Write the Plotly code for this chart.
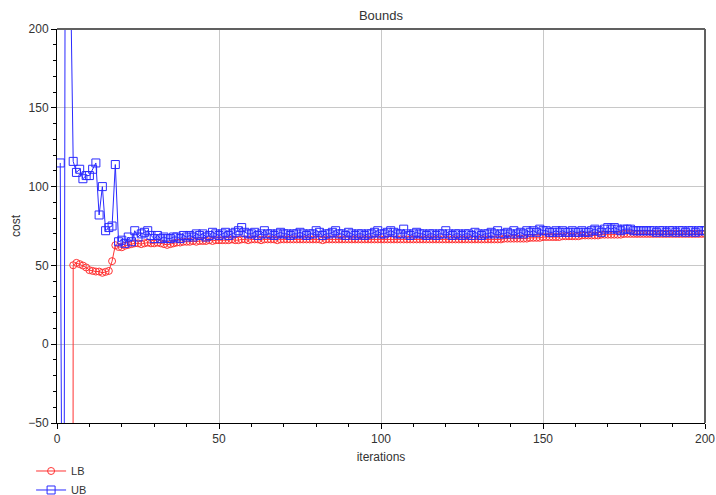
import plotly.graph_objects as go

iterations = list(range(1, 201))

UB = [115, -336, 807, 260, 116, 109, 111, 105, 107, 107,
      111, 115, 82, 100, 72, 74, 75, 114, 65, 66,
      64, 68, 65, 72, 68, 70, 71, 72, 69, 67,
      69, 67, 68, 67, 67, 68, 68, 67, 69, 68,
      69, 68, 70, 69, 70, 68, 69, 71, 70, 69,
      70, 71, 69, 70, 71, 72, 74, 71, 70, 70,
      71, 69, 70, 72, 70, 70, 69, 70, 71, 70,
      70, 69, 70, 70, 71, 70, 69, 70, 70, 72,
      71, 69, 70, 70, 71, 72, 70, 70, 69, 71,
      70, 69, 70, 70, 69, 70, 70, 71, 72, 70,
      70, 71, 72, 71, 70, 70, 73, 70, 69, 70,
      71, 70, 70, 69, 70, 70, 69, 70, 70, 72,
      70, 69, 70, 70, 69, 70, 70, 69, 71, 70,
      69, 70, 70, 71, 70, 72, 70, 70, 71, 70,
      72, 70, 71, 70, 72, 71, 72, 71, 73, 72,
      72, 71, 71, 72, 71, 72, 71, 71, 72, 71,
      71, 72, 71, 71, 72, 73, 72, 71, 73, 74,
      73, 74, 73, 72, 73, 73, 73, 72, 72, 72,
      72, 72, 72, 72, 71, 72, 72, 71, 72, 72,
      71, 72, 72, 71, 72, 72, 71, 72, 72, 72]

LB = [None, None, None, -3000, 50.1, 51.6, 50.8, 49.9, 48.7, 47.0,
      46.5, 46.1, 46.1, 45.3, 45.9, 46.5, 52.7, 62.8, 61.7, 61.5,
      62.5, 63.0, 63.5, 64.0, 64.0, 63.5, 64.0, 64.5, 64.0, 64.0,
      64.5, 64.0, 63.5, 63.0, 63.5, 64.0, 64.5, 64.5, 65.0, 65.0,
      65.0, 65.5, 65.0, 65.5, 65.5, 65.5, 66.0, 65.5, 66.0, 66.0,
      66.0, 66.0, 66.0, 66.5, 66.0, 66.0, 66.5, 66.5, 66.0, 66.5,
      66.5, 66.5, 66.0, 66.5, 66.5, 66.5, 66.5, 66.0, 66.5, 66.5,
      66.5, 66.5, 66.5, 66.5, 66.5, 66.5, 66.5, 66.5, 66.5, 66.5,
      66.5, 66.0, 66.5, 66.5, 66.5, 66.5, 66.5, 66.5, 66.5, 66.5,
      66.5, 66.5, 66.5, 66.5, 66.5, 66.5, 66.5, 66.5, 66.5, 66.5,
      66.5, 66.5, 66.5, 66.5, 66.5, 66.5, 66.5, 66.5, 66.5, 66.5,
      66.5, 66.5, 66.5, 66.5, 66.5, 66.5, 66.5, 66.5, 66.5, 66.5,
      66.5, 66.5, 66.5, 66.5, 66.5, 66.5, 66.5, 66.5, 66.5, 66.5,
      66.5, 66.5, 66.5, 66.5, 66.5, 66.5, 66.5, 67.0, 67.0, 67.0,
      67.0, 67.0, 67.0, 67.0, 67.0, 67.5, 67.5, 67.5, 67.5, 68.0,
      68.0, 68.0, 68.0, 68.0, 68.0, 68.5, 68.5, 68.5, 68.5, 68.5,
      68.5, 69.0, 69.0, 69.0, 69.0, 69.0, 69.0, 69.5, 69.5, 69.5,
      69.5, 69.5, 69.5, 69.5, 70.0, 70.0, 70.0, 70.0, 70.0, 70.0,
      70.0, 70.0, 70.0, 70.0, 70.0, 70.0, 70.0, 70.0, 70.0, 70.0,
      70.0, 70.0, 70.0, 70.0, 70.0, 70.0, 70.0, 70.0, 70.0, 70.0]

RED = "#ff3333"
BLUE = "#2a2aff"
FONT = "Liberation Sans, Arial, sans-serif"
NARROW = "Liberation Sans Narrow, Arial Narrow, Liberation Sans, Arial, sans-serif"

fig = go.Figure()
fig.add_trace(go.Scatter(
    x=iterations, y=LB, name="LB", mode="lines+markers",
    line=dict(color=RED, width=1),
    marker=dict(symbol="circle-open", size=7, color=RED, line=dict(width=1, color=RED)),
    connectgaps=False, cliponaxis=True,
))
fig.add_trace(go.Scatter(
    x=iterations, y=UB, name="UB", mode="lines+markers",
    line=dict(color=BLUE, width=1),
    marker=dict(symbol="square-open", size=8, color=BLUE, line=dict(width=1, color=BLUE)),
    cliponaxis=True,
))

fig.update_layout(
    width=716, height=495,
    margin=dict(l=57, r=11, t=29, b=72, autoexpand=False),
    paper_bgcolor="white", plot_bgcolor="white",
    font=dict(family=NARROW, size=12, color="#333333"),
    title=dict(text="Bounds", x=0.5, xref="paper", y=1 - 15 / 495, yanchor="middle",
               font=dict(family=FONT, size=13, color="#333333")),
    showlegend=True,
    legend=dict(x=-0.04, y=-0.085, xanchor="left", yanchor="top",
                orientation="v", font=dict(family=FONT, size=11, color="#333333"),
                bgcolor="rgba(0,0,0,0)", tracegroupgap=0, itemwidth=30),
    xaxis=dict(range=[0, 200], tickvals=[0, 50, 100, 150, 200],
               automargin=False,
               tickfont=dict(family=NARROW, size=12),
               showgrid=True, gridcolor="#c8c8c8", gridwidth=1,
               showline=True, linecolor="black", linewidth=1,
               ticks="outside", ticklen=5, tickcolor="black",
               minor=dict(dtick=10, ticks="outside", ticklen=3, tickcolor="black", showgrid=False),
               zeroline=False,
               title=dict(text="iterations", standoff=7, font=dict(family=NARROW, size=12))),
    yaxis=dict(range=[-50, 200], tickvals=[-50, 0, 50, 100, 150, 200],
               automargin=False,
               tickfont=dict(family=NARROW, size=12),
               showgrid=True, gridcolor="#c8c8c8", gridwidth=1,
               showline=True, linecolor="black", linewidth=1,
               ticks="outside", ticklen=5, tickcolor="black",
               minor=dict(dtick=10, ticks="outside", ticklen=3, tickcolor="black", showgrid=False),
               zeroline=False,
               title=dict(text="cost", standoff=5, font=dict(family=NARROW, size=12))),
)

# frame lines on top and right
fig.add_shape(type="line", xref="paper", yref="paper", x0=0, x1=1, y0=1, y1=1,
              line=dict(color="#606060", width=2), layer="above")
fig.add_shape(type="line", xref="paper", yref="paper", x0=1, x1=1, y0=0, y1=1,
              line=dict(color="#606060", width=2), layer="above")

fig.write_html("out.html", config={"displayModeBar": False},
               post_script="document.body.style.margin='0';document.body.style.overflow='hidden';")
